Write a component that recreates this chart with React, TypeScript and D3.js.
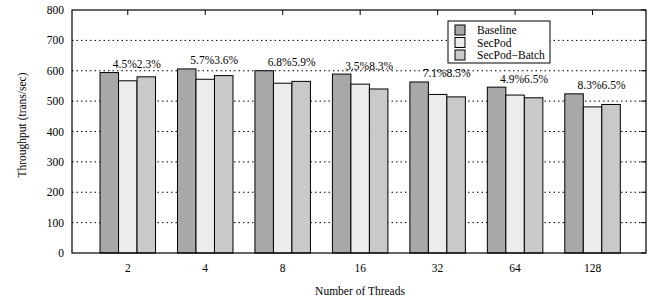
import React, { useEffect, useRef } from 'react';
import * as d3 from 'd3';

const categories = ['2', '4', '8', '16', '32', '64', '128'];
const seriesNames = ['Baseline', 'SecPod', 'SecPod\u2212Batch'];
const baseline = [594, 606, 600, 589, 563, 546, 524];
const secpod = [567, 572, 559, 556, 522, 520, 481];
const secpodBatch = [580, 584, 565, 540, 514, 511, 489];
const secpodLabels = ['4.5%', '5.7%', '6.8%', '3.5%', '7.1%', '4.9%', '8.3%'];
const batchLabels = ['2.3%', '3.6%', '5.9%', '8.3%', '8.5%', '6.5%', '6.5%'];
const yTicks = [0, 100, 200, 300, 400, 500, 600, 700, 800];
const colors = ['#a8a8a8', '#ececec', '#c9c9c9'];

const App = () => {
  const ref = useRef(null);

  useEffect(() => {
    const width = 650;
    const height = 300;
    const left = 72;
    const right = 646;
    const top = 10;
    const bottom = 253;
    const font = 'Liberation Serif, Times New Roman, Times, serif';
    const fs = 11.5;

    const svg = d3
      .select(ref.current)
      .append('svg')
      .attr('width', width)
      .attr('height', height)
      .attr('font-family', font)
      .style('position', 'absolute')
      .style('left', 0)
      .style('top', 0);

    // index scale, like gnuplot histogram xrange
    const x = d3.scaleLinear().domain([-0.72, 6.69]).range([left, right]);
    const y = d3.scaleLinear().domain([0, 800]).range([bottom, top]);
    const barW = 18.5;

    // gridlines
    svg
      .selectAll('.grid')
      .data(yTicks.slice(1, -1))
      .enter()
      .append('line')
      .attr('x1', left)
      .attr('x2', right)
      .attr('y1', (d) => y(d))
      .attr('y2', (d) => y(d))
      .attr('stroke', '#000')
      .attr('stroke-width', 1)
      .attr('stroke-dasharray', '1.5,3');

    const series = [baseline, secpod, secpodBatch];
    series.forEach((vals, s) => {
      svg
        .selectAll(`.bar${s}`)
        .data(vals)
        .enter()
        .append('rect')
        .attr('x', (d, i) => x(i) + (s - 1.5) * barW)
        .attr('y', (d) => y(d))
        .attr('width', barW)
        .attr('height', (d) => y(0) - y(d))
        .attr('fill', colors[s])
        .attr('stroke', '#000')
        .attr('stroke-width', 1);
    });

    // percentage labels above each group
    secpodLabels.forEach((t, i) => {
      svg
        .append('text')
        .attr('x', x(i) + 9)
        .attr('y', y(baseline[i]) - 4.5)
        .attr('text-anchor', 'end')
        .attr('font-size', fs)
        .text(t);
      svg
        .append('text')
        .attr('x', x(i) + 9)
        .attr('y', y(baseline[i]) - 4.5)
        .attr('font-size', fs)
        .text(batchLabels[i]);
    });

    // frame
    svg
      .append('rect')
      .attr('x', left)
      .attr('y', top)
      .attr('width', right - left)
      .attr('height', bottom - top)
      .attr('fill', 'none')
      .attr('stroke', '#000')
      .attr('stroke-width', 1.2);

    // top ticks
    svg
      .selectAll('.ttick')
      .data(categories)
      .enter()
      .append('line')
      .attr('x1', (d, i) => x(i))
      .attr('x2', (d, i) => x(i))
      .attr('y1', top)
      .attr('y2', top + 5)
      .attr('stroke', '#000');

    // right ticks
    svg
      .selectAll('.rtick')
      .data(yTicks)
      .enter()
      .append('line')
      .attr('x1', right - 5)
      .attr('x2', right)
      .attr('y1', (d) => y(d))
      .attr('y2', (d) => y(d))
      .attr('stroke', '#000');

    // y tick labels
    svg
      .selectAll('.ylab')
      .data(yTicks)
      .enter()
      .append('text')
      .attr('x', left - 8)
      .attr('y', (d) => y(d) + 4)
      .attr('text-anchor', 'end')
      .attr('font-size', fs)
      .text((d) => d);

    // x tick labels
    svg
      .selectAll('.xlab')
      .data(categories)
      .enter()
      .append('text')
      .attr('x', (d, i) => x(i))
      .attr('y', bottom + 19)
      .attr('text-anchor', 'middle')
      .attr('font-size', fs)
      .text((d) => d);

    // axis titles
    svg
      .append('text')
      .attr('x', 360)
      .attr('y', 295)
      .attr('text-anchor', 'middle')
      .attr('font-size', fs)
      .text('Number of Threads');

    svg
      .append('text')
      .attr('transform', 'translate(26,125) rotate(-90)')
      .attr('text-anchor', 'middle')
      .attr('font-size', fs)
      .text('Throughput (trans/sec)');

    // legend
    const lg = svg.append('g').attr('transform', 'translate(448,21)');
    lg.append('rect')
      .attr('width', 102)
      .attr('height', 42)
      .attr('fill', '#fff')
      .attr('stroke', '#000');
    seriesNames.forEach((name, i) => {
      lg.append('rect')
        .attr('x', 7)
        .attr('y', 4 + i * 12.5)
        .attr('width', 10)
        .attr('height', 10)
        .attr('fill', colors[i])
        .attr('stroke', '#000');
      lg.append('text')
        .attr('x', 29)
        .attr('y', 13 + i * 12.5)
        .attr('font-size', fs)
        .text(name);
    });

    return () => {
      d3.select(ref.current).selectAll('*').remove();
    };
  }, []);

  return <div ref={ref}></div>;
};

export default App;
